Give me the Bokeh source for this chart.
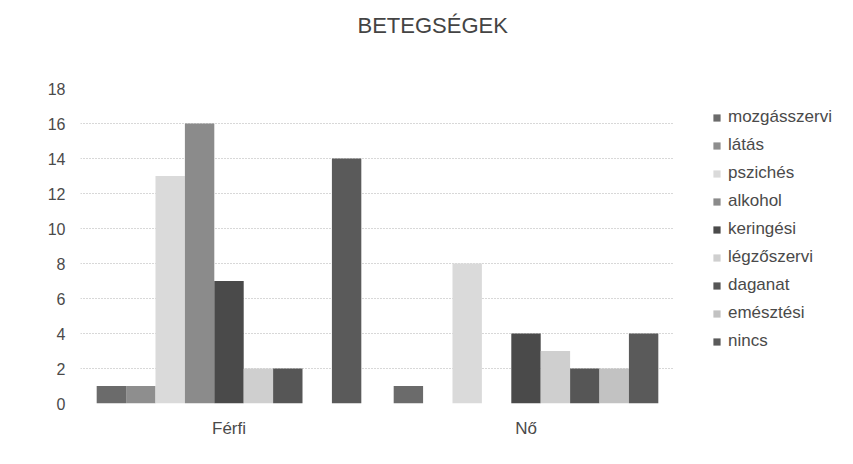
from bokeh.plotting import figure
from bokeh.models import ColumnDataSource, FactorRange, Range1d, Legend, LegendItem, SingleIntervalTicker, Title
from bokeh.transform import dodge
from bokeh.embed import file_html
from bokeh.resources import INLINE

categories = ["Férfi", "Nő"]
series = ["mozgásszervi", "látás", "pszichés", "alkohol", "keringési",
          "légzőszervi", "daganat", "emésztési", "nincs"]
mozgasszervi = [1, 1]
latas = [1, 0]
psziches = [13, 8]
alkohol = [16, 0]
keringesi = [7, 4]
legzoszervi = [2, 3]
daganat = [2, 2]
emesztesi = [0, 2]
nincs = [14, 4]
colors = ["#6b6b6b", "#8e8e8e", "#dadada", "#8b8b8b", "#4a4a4a",
          "#cfcfcf", "#565656", "#c2c2c2", "#5a5a5a"]
title_text = "BETEGSÉGEK"

values = [mozgasszervi, latas, psziches, alkohol, keringesi,
          legzoszervi, daganat, emesztesi, nincs]
data = {"cat": categories}
for i, v in enumerate(values):
    data["s%d" % i] = v
source = ColumnDataSource(data)

FONT = "Liberation Sans"

p = figure(frame_width=594, frame_height=315, x_range=FactorRange(*categories),
           y_range=Range1d(0, 18), output_backend="svg", toolbar_location=None,
           min_border_left=80, min_border_right=171, min_border_top=88,
           min_border_bottom=53)
p.outline_line_color = None
p.background_fill_color = "white"

bw = 0.099
items = []
for i, name in enumerate(series):
    r = p.vbar(x=dodge("cat", (i - 4) * bw, range=p.x_range), top="s%d" % i,
               width=bw, source=source, fill_color=colors[i], line_color=None)
    items.append(LegendItem(label=name, renderers=[r]))

legend = Legend(items=items, location=(38, 48), padding=0, margin=0,
                border_line_color=None, background_fill_alpha=0,
                glyph_width=9, glyph_height=9, label_standoff=7,
                label_height=28, spacing=0,
                label_text_font=FONT, label_text_font_size="17px",
                label_text_color="#4a4a4a")
p.add_layout(legend, "right")

p.yaxis.ticker = SingleIntervalTicker(interval=2)
for ax in (p.xaxis, p.yaxis):
    ax.axis_line_color = None
    ax.major_tick_line_color = None
    ax.minor_tick_line_color = None
    ax.major_tick_in = 0
    ax.major_tick_out = 0
    ax.major_label_text_font = FONT
    ax.major_label_text_color = "#4a4a4a"
p.yaxis.major_label_text_font_size = "16px"
p.yaxis.major_label_standoff = 11
p.xaxis.major_label_text_font_size = "17px"
p.xaxis.major_label_standoff = 15

p.xgrid.grid_line_color = None
p.ygrid.grid_line_color = "#b0b0b0"
p.ygrid.grid_line_dash = "1 2"
p.ygrid.grid_line_width = 1

# blank spacer between the title and the plot area
p.add_layout(Title(text=" ", text_font_size="10px", standoff=37), "above")

p.title.text = title_text
p.title.align = "left"
p.title.offset = 277
p.title.standoff = 0
p.title.vertical_align = "middle"
p.title.text_font = FONT
p.title.text_font_size = "22px"
p.title.text_font_style = "normal"
p.title.text_color = "#444444"

open("out.html", "w").write(file_html(p, INLINE))
